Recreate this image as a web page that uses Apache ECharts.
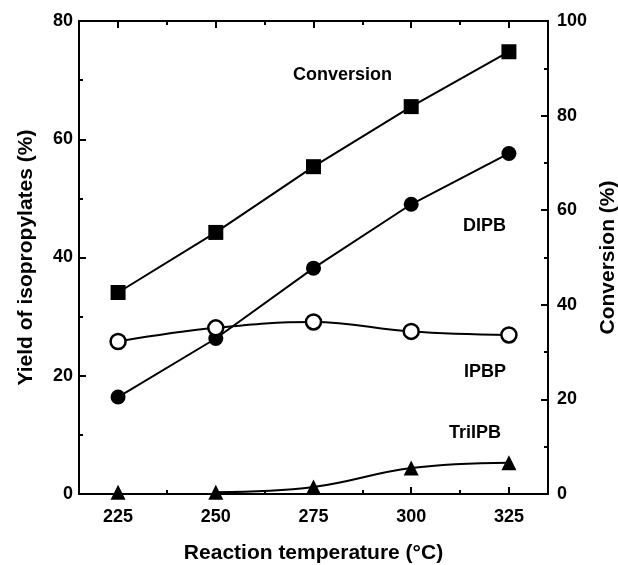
<!DOCTYPE html>
<html>
<head>
<meta charset="utf-8">
<script src="https://cdn.jsdelivr.net/npm/echarts@6/dist/echarts.min.js"></script>
<style>
  html, body { margin: 0; padding: 0; background: #fff; }
  #chart { width: 618px; height: 565px; }
</style>
</head>
<body>
<div id="chart"></div>
<script>
// reaction temperature (°C)
const temps = [225, 250, 275, 300, 325];
// yields (%) on left axis
const dipb = [16.4, 26.3, 38.2, 49.0, 57.6];
const ipbp = [25.8, 28.1, 29.1, 27.5, 26.9];
const triipb = [0.3, 0.3, 1.2, 4.4, 5.3];
// conversion (%) on right axis
const conversion = [42.6, 55.3, 69.2, 81.9, 93.5];

const majorTicks = [225, 250, 275, 300, 325];
const minorTicks = [237.5, 262.5, 287.5, 312.5];

const font = 'Liberation Sans, Arial, sans-serif';
const chart = echarts.init(document.getElementById('chart'));

function pairs(ys) { return temps.map((t, i) => [t, ys[i]]); }

function xAx(pos, ticks, len, showLabel) {
  return {
    type: 'value', position: pos, min: 215, max: 335,
    axisLine: { show: true, lineStyle: { color: '#000', width: 2 } },
    axisTick: { show: true, inside: true, length: len, customValues: ticks, lineStyle: { color: '#000', width: 2 } },
    axisLabel: { show: showLabel, customValues: ticks, margin: 14, color: '#000', fontSize: 18, fontWeight: 'bold', fontFamily: font },
    splitLine: { show: false }
  };
}

const xAxes = [
  Object.assign(xAx('bottom', majorTicks, 7, true), {
    name: 'Reaction temperature (°C)', nameLocation: 'middle', nameGap: 49,
    nameTextStyle: { color: '#000', fontSize: 21, fontWeight: 'bold', fontFamily: font }
  }),
  xAx('bottom', minorTicks, 4, false),
  xAx('top', majorTicks, 7, false),
  xAx('top', minorTicks, 4, false)
];

chart.setOption({
  animation: false,
  grid: { left: 79, right: 70, top: 21, bottom: 71, outerBoundsMode: 'none', containLabel: false },
  xAxis: xAxes,
  yAxis: [{
    type: 'value', min: 0, max: 80, interval: 20, position: 'left',
    name: 'Yield of isopropylates (%)', nameLocation: 'middle', nameGap: 42,
    nameTextStyle: { color: '#000', fontSize: 21, fontWeight: 'bold', fontFamily: font },
    axisLine: { show: true, lineStyle: { color: '#000', width: 2 } },
    axisTick: { inside: true, length: 7, lineStyle: { color: '#000', width: 2 } },
    minorTick: { show: true, splitNumber: 2, length: 4, lineStyle: { color: '#000', width: 2 } },
    axisLabel: { margin: 6, color: '#000', fontSize: 18, fontWeight: 'bold', fontFamily: font },
    splitLine: { show: false }
  }, {
    type: 'value', min: 0, max: 100, interval: 20, position: 'right',
    name: 'Conversion (%)', nameLocation: 'middle', nameGap: 49, nameRotate: 90,
    nameTextStyle: { color: '#000', fontSize: 21, fontWeight: 'bold', fontFamily: font },
    axisLine: { show: true, lineStyle: { color: '#000', width: 2 } },
    axisTick: { inside: true, length: 7, lineStyle: { color: '#000', width: 2 } },
    minorTick: { show: true, splitNumber: 2, length: 4, lineStyle: { color: '#000', width: 2 } },
    axisLabel: { margin: 9, color: '#000', fontSize: 18, fontWeight: 'bold', fontFamily: font },
    splitLine: { show: false }
  }],
  series: [
    {
      name: 'Conversion', type: 'line', yAxisIndex: 1, data: pairs(conversion),
      symbol: 'rect', symbolSize: 15,
      lineStyle: { color: '#000', width: 2 }, itemStyle: { color: '#000' }
    },
    {
      name: 'DIPB', type: 'line', data: pairs(dipb),
      symbol: 'circle', symbolSize: 15,
      lineStyle: { color: '#000', width: 2 }, itemStyle: { color: '#000' }
    },
    {
      name: 'IPBP', type: 'line', data: pairs(ipbp), smooth: 0.4,
      symbol: 'circle', symbolSize: 15,
      lineStyle: { color: '#000', width: 2 },
      itemStyle: { color: '#fff', borderColor: '#000', borderWidth: 2.5 }
    },
    {
      name: 'TriIPB curve', type: 'line', smooth: 0.4, showSymbol: false,
      data: pairs(triipb).map((p, i) => i === 0 ? [p[0], null] : p),
      lineStyle: { color: '#000', width: 2 }
    },
    {
      name: 'TriIPB', type: 'scatter', data: pairs(triipb),
      symbol: 'triangle', symbolSize: 15, itemStyle: { color: '#000', opacity: 1 }
    }
  ],
  graphic: [
    { type: 'text', left: 293, top: 66, style: { text: 'Conversion', fontSize: 18, fontWeight: 'bold', fontFamily: font, fill: '#000' } },
    { type: 'text', left: 463, top: 217, style: { text: 'DIPB', fontSize: 18, fontWeight: 'bold', fontFamily: font, fill: '#000' } },
    { type: 'text', left: 464, top: 363, style: { text: 'IPBP', fontSize: 18, fontWeight: 'bold', fontFamily: font, fill: '#000' } },
    { type: 'text', left: 449, top: 424, style: { text: 'TriIPB', fontSize: 18, fontWeight: 'bold', fontFamily: font, fill: '#000' } }
  ]
});
</script>
</body>
</html>
